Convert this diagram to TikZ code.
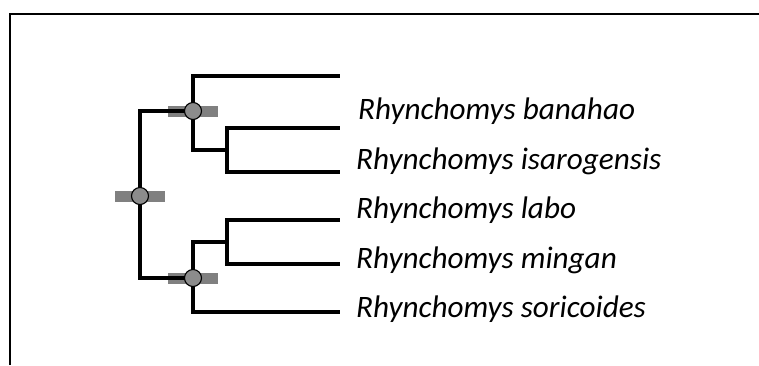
\documentclass[tikz,border=0pt]{standalone}
\usepackage{fontspec}
\setmainfont{Carlito}
\begin{document}
\begin{tikzpicture}[x=1pt,y=-1pt,
  branch/.style={line width=3.4pt, line cap=rect},
  frameline/.style={line width=2.2pt},
  bar/.style={fill=black!50, draw=none, minimum width=50pt, minimum height=11pt, inner sep=0pt},
  circ/.style={circle, fill=black!45, draw=black, line width=1.1pt, minimum size=17pt, inner sep=0pt},
  taxon/.style={anchor=base west, inner sep=0pt, font=\fontsize{31.2}{36}\selectfont\itshape}]
\useasboundingbox (0,0) rectangle (759,365);
\fill[white] (0,0) rectangle (759,365);
% frame
\coordinate (f1) at (10,365);
\coordinate (f2) at (10,14);
\coordinate (f3) at (759,14);
\draw[frameline] (f1) -- (f2) -- (f3);
% internal coordinates
\coordinate (rootc) at (140,196);
\coordinate (Ac) at (193,111);
\coordinate (Bc) at (193,278);
\coordinate (A2) at (227,150);
\coordinate (B2) at (227,242);
% tips
\coordinate (t1) at (338,76);
\coordinate (t2) at (338,128);
\coordinate (t3) at (338,172);
\coordinate (t4) at (338,220);
\coordinate (t5) at (338,264);
\coordinate (t6) at (338,312);
% bars
\node[bar] (rootbar) at (rootc) {};
\node[bar] (Abar) at (Ac) {};
\node[bar] (Bbar) at (Bc) {};
% branches
\draw[branch] (rootc) |- (Ac);
\draw[branch] (rootc) |- (Bc);
\draw[branch] (Ac) |- (t1);
\draw[branch] (Ac) |- (A2);
\draw[branch] (A2) |- (t2);
\draw[branch] (A2) |- (t3);
\draw[branch] (Bc) |- (B2);
\draw[branch] (Bc) |- (t6);
\draw[branch] (B2) |- (t4);
\draw[branch] (B2) |- (t5);
% node circles
\node[circ] (root) at (rootc) {};
\node[circ] (A) at (Ac) {};
\node[circ] (B) at (Bc) {};
% labels
\node[taxon] (l1) at (358,119) {Rhynchomys banahao};
\node[taxon] (l2) at (356,169) {Rhynchomys isarogensis};
\node[taxon] (l3) at (356,218) {Rhynchomys labo};
\node[taxon] (l4) at (356,268) {Rhynchomys mingan};
\node[taxon] (l5) at (356,317) {Rhynchomys soricoides};
\end{tikzpicture}
\end{document}
